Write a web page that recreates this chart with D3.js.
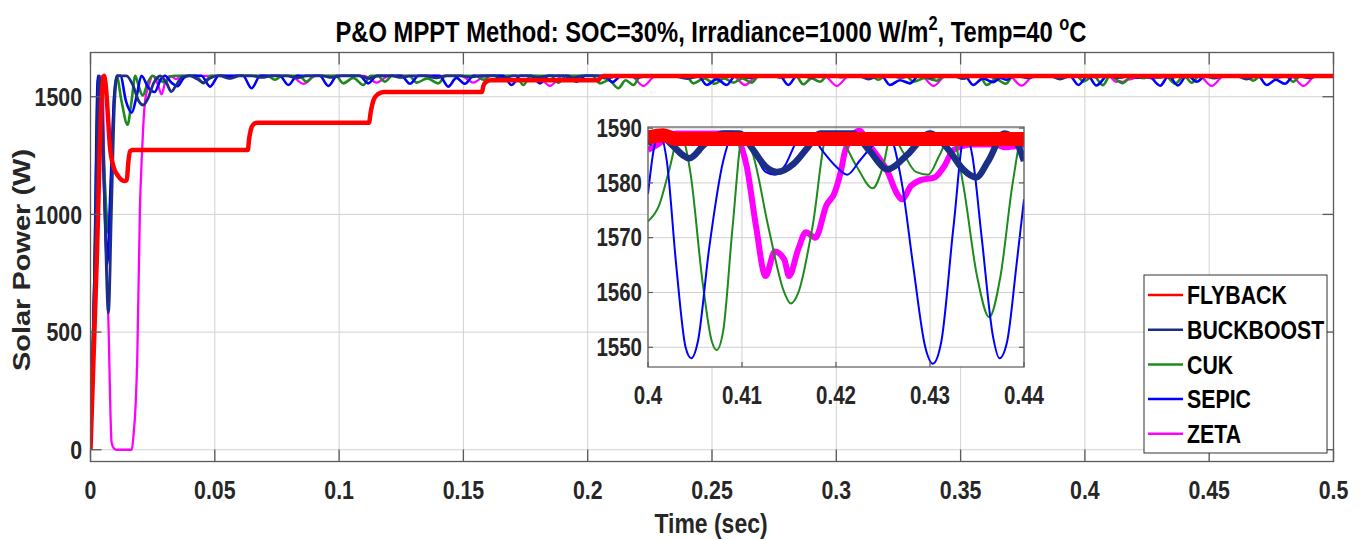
<!DOCTYPE html>
<html><head><meta charset="utf-8">
<script src="https://cdn.jsdelivr.net/npm/d3@7"></script>
<style>body{margin:0;background:#fff}svg{display:block}</style>
</head><body>
<svg id="chart" width="1365" height="540"></svg>
<script>
// ---------------- DATA ----------------
const seriesNames = ["FLYBACK", "BUCKBOOST", "CUK", "SEPIC", "ZETA"];
const seriesColors = ["#ff0000", "#1c2f86", "#1e8a1e", "#0000ff", "#ff00ff"];

const xTicksMain = [0, 0.05, 0.1, 0.15, 0.2, 0.25, 0.3, 0.35, 0.4, 0.45, 0.5];
const xTickLabelsMain = ["0", "0.05", "0.1", "0.15", "0.2", "0.25", "0.3", "0.35", "0.4", "0.45", "0.5"];
const yTicksMain = [0, 500, 1000, 1500];
const xTicksInset = [0.4, 0.41, 0.42, 0.43, 0.44];
const xTickLabelsInset = ["0.4", "0.41", "0.42", "0.43", "0.44"];
const yTicksInset = [1550, 1560, 1570, 1580, 1590];

// main plot series [time (s), power (W)]
const flybackMain = [[0,0],[0.0025,800],[0.0045,1500],[0.0054,1589],[0.0062,1540],[0.007,1420],[0.0078,1290],[0.0092,1205],[0.0112,1162],[0.0135,1142],[0.0146,1145],[0.0152,1220],[0.0159,1268],[0.017,1274],[0.0633,1274],[0.0638,1320],[0.0645,1360],[0.0655,1382],[0.067,1390],[0.112,1390],[0.1128,1440],[0.114,1490],[0.1155,1510],[0.118,1520],[0.1575,1520],[0.158,1545],[0.159,1562],[0.161,1570],[0.2043,1570],[0.205,1580],[0.2065,1588],[0.5,1588]];

const buckboostMain = [[0,0],[0.002,900],[0.0035,1589],[0.0045,1500],[0.0058,1000],[0.0072,582],[0.0085,1050],[0.0097,1480],[0.0108,1589],[0.0145,1589],[0.017,1550],[0.0195,1480],[0.0212,1465],[0.023,1490],[0.0255,1560],[0.028,1589],[0.0305,1560],[0.0325,1522],[0.0345,1550],[0.037,1585],[0.040,1589],[0.043,1575],[0.0455,1560],[0.048,1578],[0.051,1589],
[0.052,1589],[0.056,1578],[0.060,1589],[0.065,1589],[0.069,1582],[0.073,1589],[0.079,1589],[0.083,1580],[0.087,1589],[0.093,1589],[0.097,1582],[0.101,1589],[0.108,1589],[0.112,1578],[0.116,1589],[0.121,1589],[0.125,1582],[0.129,1589],[0.135,1589],[0.139,1580],[0.143,1589],[0.149,1589],[0.153,1583],[0.157,1589],[0.162,1589],[0.166,1578],[0.170,1589],[0.176,1589],[0.180,1582],[0.184,1589],[0.190,1589],[0.194,1580],[0.198,1589],[0.2036,1589],[0.2076,1578],[0.2116,1589],[0.216,1589],[0.220,1582],[0.224,1589],[0.234,1589],[0.240,1577],[0.246,1589],[0.248,1589],[0.252,1582],[0.256,1589],[0.261,1589],[0.265,1580],[0.269,1589],[0.274,1589],[0.278,1582],[0.282,1589],[0.286,1589],[0.290,1581],[0.294,1589],[0.298,1589],[0.302,1583],[0.306,1589],[0.309,1589],[0.313,1575],[0.317,1589],[0.322,1589],[0.326,1582],[0.330,1589],[0.334,1589],[0.338,1580],[0.342,1589],[0.347,1589],[0.351,1577],[0.355,1589],[0.360,1589],[0.364,1582],[0.368,1589],[0.373,1589],[0.377,1580],[0.381,1589],[0.386,1589],[0.390,1575],[0.394,1589],
[0.3995,1588],[0.4012,1589],[0.4044,1584.5],[0.4080,1589],[0.4097,1589],[0.4137,1582],[0.4183,1589],[0.4218,1589],[0.4255,1582.5],[0.4300,1589],[0.4349,1581],[0.4379,1589],[0.448,1589],[0.452,1579],[0.456,1589],[0.461,1589],[0.465,1575],[0.469,1589],[0.473,1589],[0.477,1582],[0.481,1589],[0.486,1589],[0.490,1580],[0.494,1589],[0.5,1589]];

const cukMain = [[0,0],[0.0015,700],[0.0032,1589],[0.005,1300],[0.0065,1000],[0.0072,921],[0.0085,1200],[0.0095,1500],[0.0105,1589],[0.0125,1480],[0.0149,1381],[0.0165,1480],[0.018,1589],[0.0195,1540],[0.021,1505],[0.023,1560],[0.025,1589],[0.0275,1572],[0.030,1560],[0.032,1585],[0.034,1589],
[0.0424,1589],[0.0454,1557],[0.0484,1589],[0.0536,1589],[0.0561,1579],[0.0586,1589],[0.0712,1589],[0.0742,1572],[0.0772,1589],[0.0839,1589],[0.0869,1564],[0.0899,1589],[0.0987,1589],[0.1017,1557],[0.1057,1580],[0.1097,1550],[0.1127,1589],[0.1154,1589],[0.1184,1564],[0.1214,1589],[0.1282,1589],[0.1312,1560],[0.1355,1578],[0.1399,1557],[0.1429,1589],[0.1550,1589],[0.1580,1572],[0.1610,1589],[0.1711,1589],[0.1741,1550],[0.1771,1589],[0.1852,1589],[0.1882,1560],[0.1912,1589],[0.2019,1589],[0.2049,1557],[0.2085,1570],[0.2123,1536],[0.2153,1570],[0.2184,1550],[0.2214,1589],[0.2395,1589],[0.2425,1557],[0.2468,1578],[0.2512,1555],[0.2549,1578],[0.2586,1560],[0.2622,1578],[0.2659,1560],[0.2689,1589],[0.2837,1589],[0.2867,1553],[0.2900,1578],[0.2935,1564],[0.2965,1589],[0.3139,1589],[0.3169,1572],[0.3199,1589],[0.3280,1589],[0.3310,1564],[0.3357,1580],[0.3404,1568],[0.3434,1589],[0.3575,1589],[0.3605,1550],[0.3642,1575],[0.3682,1555],[0.3712,1589],
[0.3965,1589],[0.3995,1565],[0.4034,1589],[0.4073,1549.5],[0.4101,1589],[0.4152,1558],[0.4191,1589],[0.4239,1579],[0.4259,1589],[0.4298,1581.5],[0.4323,1589],[0.4363,1555.5],[0.4399,1589],[0.4430,1560],[0.4460,1589],[0.4647,1589],[0.4677,1568],[0.4707,1589],[0.4808,1589],[0.4838,1564],[0.4868,1589],[0.5,1589]];

const sepicMain = [[0,0],[0.0015,700],[0.003,1589],[0.0045,1400],[0.0058,1000],[0.0067,786],[0.008,1100],[0.0095,1500],[0.0108,1589],[0.012,1589],[0.0143,1480],[0.0166,1432],[0.0185,1500],[0.0205,1589],[0.0232,1540],[0.0258,1520],[0.0283,1575],[0.0300,1589],[0.0325,1560],[0.0350,1545],[0.0375,1580],[0.0395,1589],
[0.0446,1589],[0.0481,1543],[0.0516,1589],[0.0613,1589],[0.0648,1536],[0.0683,1589],[0.0761,1589],[0.0796,1550],[0.0831,1589],[0.0922,1589],[0.0957,1546],[0.0992,1589],[0.1082,1589],[0.1117,1557],[0.1152,1589],[0.1250,1589],[0.1285,1555],[0.1320,1589],[0.1404,1589],[0.1439,1543],[0.1472,1580],[0.1506,1555],[0.1541,1589],[0.1659,1589],[0.1694,1550],[0.1729,1589],[0.1773,1589],[0.1808,1557],[0.1843,1589],[0.1920,1589],[0.1955,1564],[0.1990,1589],[0.2065,1589],[0.2100,1562],[0.2135,1589],[0.2444,1589],[0.2479,1550],[0.2519,1575],[0.2559,1550],[0.2594,1589],[0.2772,1589],[0.2807,1550],[0.2842,1589],[0.3181,1589],[0.3216,1550],[0.3256,1570],[0.3297,1557],[0.3332,1589],[0.3516,1589],[0.3551,1550],[0.3590,1578],[0.3632,1562],[0.3660,1580],[0.3685,1572],[0.3715,1589],
[0.3939,1589],[0.3974,1550],[0.4012,1589],[0.4046,1548],[0.4092,1589],[0.4135,1581],[0.4172,1589],[0.4212,1581],[0.4255,1589],[0.4303,1547],[0.4337,1589],[0.4374,1548],[0.4410,1589],[0.4415,1589],[0.4450,1564],[0.4485,1589],[0.4696,1589],[0.4731,1550],[0.4768,1572],[0.4805,1555],[0.4840,1589],[0.5,1589]];

const zetaMain = [[0,0],[0.0015,500],[0.003,1250],[0.0042,1589],[0.0048,1560],[0.0058,1066],[0.0072,548],[0.0085,30],[0.0095,5],[0.0105,0],[0.0166,0],[0.0172,50],[0.0182,200],[0.0188,382],[0.0199,1032],[0.0206,1232],[0.022,1487],[0.0233,1542],[0.025,1589],[0.027,1555],[0.0286,1510],[0.030,1560],[0.032,1589],[0.0345,1575],[0.036,1589],
[0.0806,1589],[0.0856,1555],[0.0906,1589],[0.1101,1589],[0.1151,1560],[0.1201,1589],[0.1490,1589],[0.1540,1560],[0.1590,1589],[0.1798,1589],[0.1848,1546],[0.1898,1589],[0.2174,1589],[0.2224,1546],[0.2274,1589],[0.2583,1589],[0.2633,1550],[0.2683,1589],[0.2952,1589],[0.3002,1546],[0.3052,1589],[0.3341,1589],[0.3391,1546],[0.3441,1589],[0.3695,1589],[0.3745,1547],[0.3795,1589],
[0.4000,1586],[0.4030,1589],[0.4090,1589],[0.4105,1583],[0.4125,1563],[0.4135,1567],[0.4150,1563],[0.4168,1571],[0.4190,1576],[0.4210,1586],[0.4225,1589],[0.4255,1582],[0.4270,1577],[0.4290,1580.5],[0.4305,1581],[0.4325,1586],[0.4345,1587],[0.4400,1587],[0.4460,1589],[0.4510,1546],[0.4560,1589],[0.4829,1589],[0.4879,1546],[0.4929,1589],[0.5,1589]];

// inset (zoom 0.40-0.44 s) series
const flybackInset = [[0.4,1588.3],[0.4016,1588.7],[0.403,1588],[0.44,1588]];
const buckboostInset = [[0.4000,1587],[0.4012,1589],[0.4025,1587],[0.4044,1584.5],[0.4060,1587],[0.4080,1589],[0.4097,1589],[0.4112,1586],[0.4125,1583],[0.4137,1582],[0.4155,1583.5],[0.4170,1586.5],[0.4183,1589],[0.4218,1589],[0.4235,1586],[0.4255,1582.5],[0.4275,1585],[0.4300,1589],[0.4320,1586],[0.4335,1582.5],[0.4349,1581],[0.4362,1584],[0.4379,1589],[0.4390,1588],[0.4400,1584]];
const cukInset = [[0.4000,1573],[0.4012,1576],[0.4022,1582],[0.4034,1589],[0.4045,1582],[0.4058,1562],[0.4068,1551],[0.4073,1549.5],[0.4080,1553],[0.4090,1572],[0.4101,1589],[0.4112,1585],[0.4128,1572],[0.4145,1560],[0.4152,1558],[0.4160,1560],[0.4175,1572],[0.4191,1589],[0.4205,1588],[0.4222,1583],[0.4239,1579],[0.4250,1583],[0.4259,1589],[0.4270,1586],[0.4285,1582],[0.4298,1581.5],[0.4310,1585],[0.4323,1589],[0.4335,1580],[0.4350,1563],[0.4363,1555.5],[0.4375,1563],[0.4388,1580],[0.4399,1589],[0.4400,1589]];
const sepicInset = [[0.4000,1578],[0.4006,1586],[0.4012,1589],[0.4020,1584],[0.4030,1565],[0.4040,1550],[0.4046,1548],[0.4053,1551],[0.4065,1568],[0.4080,1584],[0.4092,1589],[0.4105,1589],[0.4115,1585],[0.4125,1582],[0.4135,1581.5],[0.4145,1583],[0.4160,1588],[0.4172,1589],[0.4185,1586],[0.4200,1583],[0.4212,1581.5],[0.4225,1584],[0.4240,1587],[0.4255,1589],[0.4270,1580],[0.4282,1565],[0.4295,1550],[0.4303,1547],[0.4312,1551],[0.4325,1572],[0.4337,1589],[0.4345,1585],[0.4355,1570],[0.4367,1552],[0.4374,1548],[0.4382,1551],[0.4392,1565],[0.4400,1577]];
const zetaInset = [[0.4000,1586],[0.4010,1587],[0.4030,1589],[0.4090,1589],[0.4105,1583],[0.4115,1572],[0.4125,1563],[0.4135,1567.5],[0.4145,1566],[0.4150,1563],[0.4160,1568],[0.4168,1571],[0.4178,1570],[0.4190,1576],[0.4198,1578],[0.4205,1582],[0.4210,1586],[0.4225,1589.5],[0.4235,1587],[0.4255,1582],[0.4265,1578],[0.4270,1577],[0.4280,1579.5],[0.4290,1580.5],[0.4305,1581],[0.4315,1583],[0.4325,1586],[0.4345,1587],[0.4370,1587],[0.4380,1586.5],[0.4400,1587]];

// ---------------- DRAWING ----------------
const FONT = "'Liberation Sans', Arial, Helvetica, sans-serif";
const NARROW = 0.82;
const svg = d3.select("#chart");

const W = {left: 90.5, right: 1333.5, top: 52.5, bottom: 461.5};
const x = d3.scaleLinear().domain([0, 0.5]).range([W.left, W.right]);
const y = d3.scaleLinear().domain([-50, 1688]).range([W.bottom, W.top]);

function label(g, px, py, str, size, anchor, baseline) {
  return g.append("text")
    .attr("transform", `translate(${px},${py}) scale(${NARROW},1)`)
    .attr("text-anchor", anchor || "middle")
    .attr("dominant-baseline", baseline || "auto")
    .style("font-family", FONT).style("font-weight", "bold")
    .style("font-size", size + "px").attr("fill", "#262626")
    .text(str);
}

svg.append("defs").append("clipPath").attr("id", "clipMain")
  .append("rect").attr("x", W.left).attr("y", W.top)
  .attr("width", W.right - W.left).attr("height", W.bottom - W.top);

// main grid
const grid = svg.append("g").attr("stroke", "#d2d2d2").attr("stroke-width", 1);
xTicksMain.forEach(t => grid.append("line").attr("x1", x(t)).attr("x2", x(t)).attr("y1", W.top).attr("y2", W.bottom));
yTicksMain.forEach(v => grid.append("line").attr("x1", W.left).attr("x2", W.right).attr("y1", y(v)).attr("y2", y(v)));

// main lines
const mainSeries = [
  {d: zetaMain, c: seriesColors[4], w: 2.3},
  {d: cukMain, c: seriesColors[2], w: 2.6},
  {d: sepicMain, c: seriesColors[3], w: 2.6},
  {d: buckboostMain, c: seriesColors[1], w: 2.8},
  {d: flybackMain, c: seriesColors[0], w: 4.5}
];
const lineMain = d3.line().x(d => x(d[0])).y(d => y(d[1])).curve(d3.curveMonotoneX);
const gm = svg.append("g").attr("clip-path", "url(#clipMain)");
mainSeries.forEach(s => gm.append("path").attr("d", lineMain(s.d)).attr("fill", "none")
  .attr("stroke", s.c).attr("stroke-width", s.w).attr("stroke-linejoin", "round"));

// main axes box + ticks
const ax = svg.append("g").attr("stroke", "#5a5a5a").attr("stroke-width", 1.3);
ax.append("rect").attr("x", W.left).attr("y", W.top).attr("width", W.right - W.left)
  .attr("height", W.bottom - W.top).attr("fill", "none");
xTicksMain.forEach(t => {
  ax.append("line").attr("x1", x(t)).attr("x2", x(t)).attr("y1", W.bottom).attr("y2", W.bottom - 12);
  ax.append("line").attr("x1", x(t)).attr("x2", x(t)).attr("y1", W.top).attr("y2", W.top + 12);
});
yTicksMain.forEach(v => {
  ax.append("line").attr("x1", W.left).attr("x2", W.left + 11).attr("y1", y(v)).attr("y2", y(v));
  ax.append("line").attr("x1", W.right).attr("x2", W.right - 11).attr("y1", y(v)).attr("y2", y(v));
});
const tl = svg.append("g");
xTicksMain.forEach((t, i) => label(tl, x(t), 499, xTickLabelsMain[i], 26, "middle"));
yTicksMain.forEach(v => label(tl, 82, y(v), String(v), 26, "end", "central"));

// titles
const title = svg.append("text")
  .attr("transform", `translate(711,42) scale(${NARROW},1)`)
  .attr("text-anchor", "middle")
  .style("font-family", FONT).style("font-weight", "bold").style("font-size", "29px").attr("fill", "#000");
title.append("tspan").text("P&O MPPT Method: SOC=30%, Irradiance=1000 W/m");
title.append("tspan").attr("dy", -12).style("font-size", "20px").text("2");
title.append("tspan").attr("dy", 12).text(", Temp=40 ");
title.append("tspan").attr("dy", -12).style("font-size", "20px").text("o");
title.append("tspan").attr("dy", 12).text("C");

label(svg, 711, 533, "Time (sec)", 28, "middle").attr("fill", "#262626");
svg.append("text")
  .attr("transform", "translate(30,260) rotate(-90) scale(1,0.82)")
  .attr("text-anchor", "middle")
  .style("font-family", FONT).style("font-weight", "bold").style("font-size", "29px")
  .attr("fill", "#262626").text("Solar Power (W)");

// ---------------- INSET ----------------
const I = {left: 648, right: 1024, top: 127, bottom: 367};
const xi = d3.scaleLinear().domain([0.4, 0.44]).range([I.left, I.right]);
const yi = d3.scaleLinear().domain([1546.4, 1590.2]).range([I.bottom, I.top]);
svg.select("defs").append("clipPath").attr("id", "clipInset")
  .append("rect").attr("x", I.left).attr("y", I.top)
  .attr("width", I.right - I.left).attr("height", I.bottom - I.top);
const gi = svg.append("g");
gi.append("rect").attr("x", I.left).attr("y", I.top).attr("width", I.right - I.left)
  .attr("height", I.bottom - I.top).attr("fill", "#fff");
const gig = gi.append("g").attr("stroke", "#cfcfcf").attr("stroke-width", 1);
xTicksInset.forEach(t => gig.append("line").attr("x1", xi(t)).attr("x2", xi(t)).attr("y1", I.top).attr("y2", I.bottom));
yTicksInset.forEach(v => gig.append("line").attr("x1", I.left).attr("x2", I.right).attr("y1", yi(v)).attr("y2", yi(v)));

const insetSeries = [
  {d: zetaInset, c: seriesColors[4], w: 6},
  {d: cukInset, c: seriesColors[2], w: 2},
  {d: sepicInset, c: seriesColors[3], w: 2},
  {d: buckboostInset, c: seriesColors[1], w: 6.5},
  {d: flybackInset, c: seriesColors[0], w: 14}
];
const lineInset = d3.line().x(d => xi(d[0])).y(d => yi(d[1])).curve(d3.curveMonotoneX);
const gil = gi.append("g").attr("clip-path", "url(#clipInset)");
insetSeries.forEach(s => gil.append("path").attr("d", lineInset(s.d)).attr("fill", "none")
  .attr("stroke", s.c).attr("stroke-width", s.w).attr("stroke-linejoin", "round"));

const gia = gi.append("g").attr("stroke", "#5a5a5a").attr("stroke-width", 1.2);
gia.append("rect").attr("x", I.left).attr("y", I.top).attr("width", I.right - I.left)
  .attr("height", I.bottom - I.top).attr("fill", "none");
xTicksInset.forEach(t => {
  gia.append("line").attr("x1", xi(t)).attr("x2", xi(t)).attr("y1", I.bottom).attr("y2", I.bottom - 5);
});
yTicksInset.forEach(v => {
  gia.append("line").attr("x1", I.left).attr("x2", I.left + 5).attr("y1", yi(v)).attr("y2", yi(v));
  gia.append("line").attr("x1", I.right).attr("x2", I.right - 5).attr("y1", yi(v)).attr("y2", yi(v));
});
xTicksInset.forEach((t, i) => label(gi, xi(t), 404, xTickLabelsInset[i], 25, "middle"));
yTicksInset.forEach(v => label(gi, 642, yi(v), String(v), 25, "end", "central"));

// ---------------- LEGEND ----------------
const L = {x: 1144, y: 275, w: 183, h: 178};
const gl = svg.append("g");
gl.append("rect").attr("x", L.x).attr("y", L.y).attr("width", L.w).attr("height", L.h)
  .attr("fill", "#fff").attr("stroke", "#333").attr("stroke-width", 1);
seriesNames.forEach((n, i) => {
  const cy = L.y + 20 + i * 34.7;
  gl.append("line").attr("x1", L.x + 4).attr("x2", L.x + 39).attr("y1", cy).attr("y2", cy)
    .attr("stroke", seriesColors[i]).attr("stroke-width", 2.5);
  label(gl, L.x + 43, cy, n, 26, "start", "central").attr("fill", "#000");
});
</script>
</body></html>
